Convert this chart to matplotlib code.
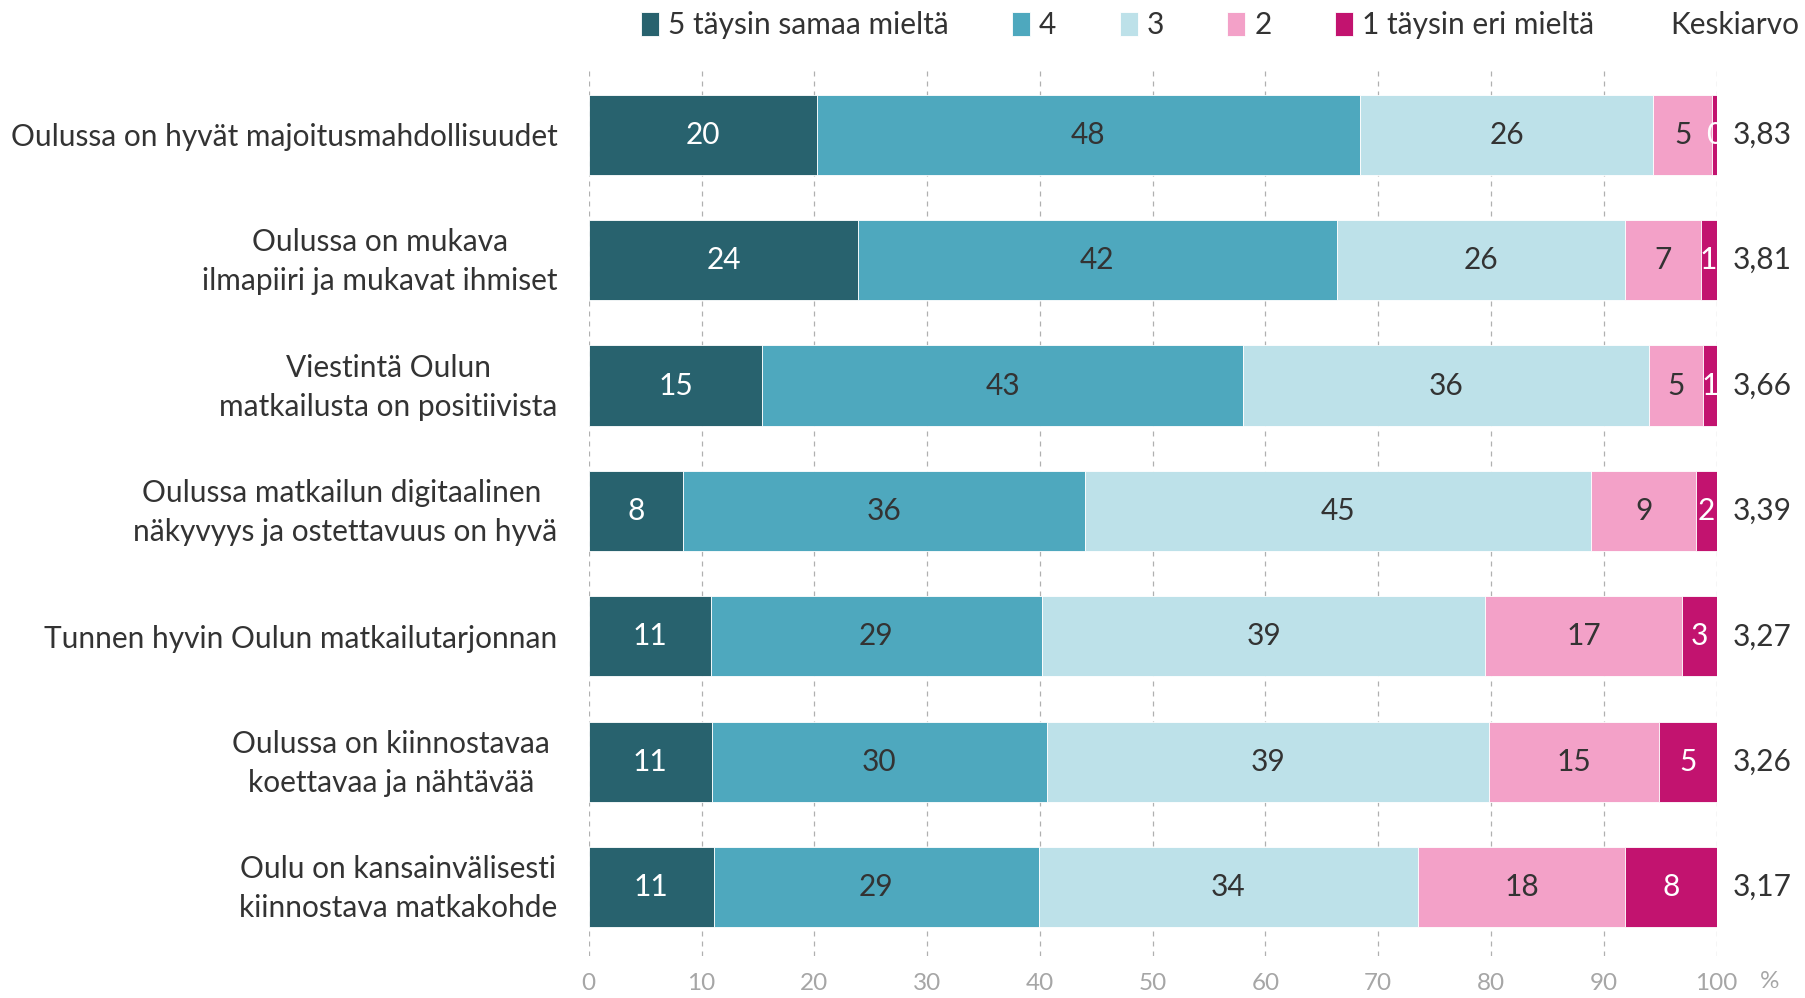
import matplotlib
matplotlib.use("Agg")
import matplotlib.pyplot as plt
import matplotlib.transforms as mtransforms
import numpy as np

plt.rcParams['font.family'] = ['Lato', 'DejaVu Sans']

categories = [
    "Oulussa on hyvät majoitusmahdollisuudet",
    "Oulussa on mukava\nilmapiiri ja mukavat ihmiset",
    "Viestintä Oulun\nmatkailusta on positiivista",
    "Oulussa matkailun digitaalinen \nnäkyvyys ja ostettavuus on hyvä",
    "Tunnen hyvin Oulun matkailutarjonnan",
    "Oulussa on kiinnostavaa \nkoettavaa ja nähtävää ",
    "Oulu on kansainvälisesti\nkiinnostava matkakohde",
]
series_names = ["5 täysin samaa mieltä", "4", "3", "2", "1 täysin eri mieltä"]
s5 = [20.2, 23.9, 15.4, 8.4, 10.8, 10.9, 11.1]
s4 = [48.2, 42.4, 42.6, 35.6, 29.4, 29.7, 28.8]
s3 = [26.0, 25.6, 36.0, 44.9, 39.3, 39.2, 33.6]
s2 = [5.2, 6.7, 4.8, 9.3, 17.4, 15.1, 18.4]
s1 = [0.4, 1.4, 1.2, 1.8, 3.1, 5.1, 8.1]
means = ["3,83", "3,81", "3,66", "3,39", "3,27", "3,26", "3,17"]
xticks = [0, 10, 20, 30, 40, 50, 60, 70, 80, 90, 100]

colors = ["#28626e", "#4ea8be", "#bde1e9", "#f3a1c8", "#c2136f"]
label_colors = ["white", "#333333", "#333333", "#333333", "white"]

FS = 21.5

fig = plt.figure(figsize=(18.06, 9.98), dpi=100)
ax = fig.add_axes([0.326, 0.042, 0.6245, 0.889])

y = np.arange(len(categories))
left = np.zeros(len(categories))
handles = []
for vals, col, lc, name in zip([s5, s4, s3, s2, s1], colors, label_colors, series_names):
    vals = np.array(vals)
    bars = ax.barh(y, vals, left=left, height=0.64, color=col, edgecolor="white",
                   linewidth=0.6, label=name, zorder=3)
    handles.append(bars)
    for yi, l, v in zip(y, left, vals):
        ax.text(l + v / 2, yi, f"{v:.0f}", ha="center", va="center",
                color=lc, fontsize=FS, zorder=4)
    left += vals

for yi, m in zip(y, means):
    ax.text(101.4, yi, m, ha="left", va="center", color="#333333", fontsize=FS,
            clip_on=False)

ax.set_xlim(0, 100)
ax.set_ylim(6.55, -0.525)
ax.set_yticks(y)
ax.set_yticklabels(categories, fontsize=FS, color="#333333")
ax.tick_params(axis="y", length=0, pad=22.5)
ax.set_xticks(xticks)
ax.set_xticklabels([str(v) for v in xticks], fontsize=17.5, color="#a6a6a6")
ax.tick_params(axis="x", length=0, pad=12)
offset = mtransforms.ScaledTranslation(0, 0.065, fig.dpi_scale_trans)
for t in ax.get_yticklabels():
    t.set_multialignment("center")
    t.set_linespacing(1.48)
    if "\n" in t.get_text():
        t.set_transform(t.get_transform() + offset)
ax.grid(axis="x", color="#b0b0b0", linestyle=(0, (4, 4)), linewidth=0.9, zorder=0)
for s in ax.spines.values():
    s.set_visible(False)

ax.text(103.8, 6.55 + 0.2, "%", fontsize=17.5, color="#a6a6a6", ha="left",
        va="center", clip_on=False)

leg = ax.legend(handles=handles, loc="center left", bbox_to_anchor=(0.046, 1.049),
                ncol=5, frameon=False, fontsize=FS, handlelength=0.6, handleheight=0.9,
                handletextpad=0.3, columnspacing=2.13, labelcolor="#333333",
                borderpad=0, borderaxespad=0)
fig.text(0.9965, 0.975, "Keskiarvo", ha="right", va="center", fontsize=FS, color="#333333")

fig.savefig("out.png", dpi=100)
